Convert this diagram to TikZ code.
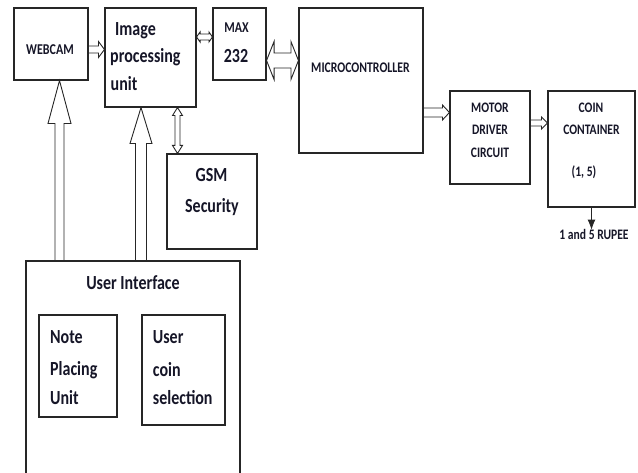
\documentclass[tikz,border=0pt]{standalone}
\usepackage{fontspec}
\newfontfamily\lblfont{Carlito}[FakeStretch=0.8]
\usetikzlibrary{calc,arrows.meta}
\definecolor{ink}{RGB}{22,22,40}

% hollow block arrow: style, from, to, shaft half width, head half width, head length
\newcommand\blockarrow[6]{%
  \draw[#1] let \p1=(#2), \p2=(#3),
      \n1={atan2(\y2-\y1,\x2-\x1)}, \n2={veclen(\x2-\x1,\y2-\y1)} in
    [shift={(\p1)}, rotate=\n1]
    (0pt,#4) -- ({\n2*1pt-#6},#4) -- ({\n2*1pt-#6},#5) -- ({\n2*1pt},0pt)
    -- ({\n2*1pt-#6},-#5) -- ({\n2*1pt-#6},-#4) -- (0pt,-#4);
}
% hollow block arrow with a head at both ends
\newcommand\twowayarrow[6]{%
  \draw[#1] let \p1=(#2), \p2=(#3),
      \n1={atan2(\y2-\y1,\x2-\x1)}, \n2={veclen(\x2-\x1,\y2-\y1)} in
    [shift={(\p1)}, rotate=\n1]
    (#6,#4) -- ({\n2*1pt-#6},#4) -- ({\n2*1pt-#6},#5) -- ({\n2*1pt},0pt)
    -- ({\n2*1pt-#6},-#5) -- ({\n2*1pt-#6},-#4) -- (#6,-#4) -- (#6,-#5)
    -- (0pt,0pt) -- (#6,#5) -- cycle;
}

\begin{document}
\begin{tikzpicture}[x=1pt,y=-1pt,
  box/.style={draw=black!85, line width=1.1pt, inner sep=0pt},
  hollow/.style={draw=black!85, line width=0.9pt, line join=miter},
  lbl/.style={inner sep=0pt, text=ink,
    font=\lblfont\bfseries\fontsize{#1}{#1}\selectfont},
]
\path[use as bounding box, fill=white] (0,0) rectangle (638,473);

% blocks
\node[box, minimum width=74pt,  minimum height=72pt]  (web)  at (51,44)    {};
\node[box, minimum width=91pt,  minimum height=99pt]  (ipu)  at (150.5,57.5) {};
\node[box, minimum width=53pt,  minimum height=72pt]  (max)  at (239.5,44)  {};
\node[box, minimum width=124pt, minimum height=145pt] (mcu)  at (361,80.5)  {};
\node[box, minimum width=80pt,  minimum height=93pt]  (mdc)  at (490,137.5) {};
\node[box, minimum width=87pt,  minimum height=116pt] (coin) at (591.5,149) {};
\node[box, minimum width=90pt,  minimum height=95pt]  (gsm)  at (212,201.5) {};
\node[box, minimum width=214pt, minimum height=234pt] (ui)   at (133,378)   {};
\node[box, minimum width=78pt,  minimum height=102pt] (note) at (78,366)    {};
\node[box, minimum width=83pt,  minimum height=110pt] (sel)  at (183.5,370) {};

% labels
\node[lbl=15, anchor=base] (webT) at (50,55) {WEBCAM};
\node[lbl=20, anchor=base west] (ipuT1) at (115,36)   {Image};
\node[lbl=20, anchor=base west] (ipuT2) at (110,63)   {processing};
\node[lbl=20, anchor=base west] (ipuT3) at (110.5,91) {unit};
\node[lbl=15, anchor=base] (maxT1) at (236.5,33)  {MAX};
\node[lbl=20, anchor=base] (maxT2) at (236,62.5)  {232};
\node[lbl=14.7, anchor=base] (mcuT) at (360.5,73) {MICROCONTROLLER};
\node[lbl=14.5, anchor=base] (mdcT1) at (490,113) {MOTOR};
\node[lbl=14.5, anchor=base] (mdcT2) at (490,135) {DRIVER};
\node[lbl=14.5, anchor=base] (mdcT3) at (490,158) {CIRCUIT};
\node[lbl=14.5, anchor=base] (coinT1) at (591,113) {COIN};
\node[lbl=14.5, anchor=base] (coinT2) at (591.5,135) {CONTAINER};
\node[lbl=14.5, anchor=base] (coinT3) at (584,177) {(1, 5)};
\node[lbl=14.5, anchor=base] (rupee) at (594,240) {1 and 5 RUPEE};
\node[lbl=20, anchor=base] (gsmT1) at (211.5,182) {GSM};
\node[lbl=20, anchor=base] (gsmT2) at (212,213)   {Security};
\node[lbl=20, anchor=base] (uiT) at (133,290) {User Interface};
\node[lbl=20, anchor=base west] (noteT1) at (50,344)   {Note};
\node[lbl=20, anchor=base west] (noteT2) at (50,375.5) {Placing};
\node[lbl=20, anchor=base west] (noteT3) at (50,405)   {Unit};
\node[lbl=20, anchor=base west] (selT1) at (152.7,344)   {User};
\node[lbl=20, anchor=base west] (selT2) at (152.7,376.5) {coin};
\node[lbl=20, anchor=base west] (selT3) at (152.7,405)   {selection};

% connectors
\blockarrow{hollow}{$(web.east)+(0,5.5)$}{$(ipu.west)+(0,-8)$}{3.5pt}{8pt}{6pt}
\twowayarrow{hollow}{$(ipu.east)+(0,-20.5)$}{$(max.west)+(0,-7)$}{3pt}{5pt}{3.5pt}
\twowayarrow{hollow}{$(max.east)+(0,16.5)$}{$(mcu.west)+(0,-20)$}{7.5pt}{19pt}{7.5pt}
\blockarrow{hollow}{$(mcu.east)+(0,32)$}{$(mdc.west)+(0,-25)$}{4.5pt}{7.5pt}{7pt}
\blockarrow{hollow}{$(mdc.east)+(0,-14.5)$}{$(coin.west)+(0,-26)$}{3pt}{6pt}{6pt}
\twowayarrow{hollow}{$(ipu.south)+(27,0)$}{$(gsm.north)+(-34.5,0)$}{2.5pt}{5pt}{8pt}
\blockarrow{hollow}{$(ui.north)+(-73.5,0)$}{$(web.south)+(8.5,0)$}{4.5pt}{11.5pt}{43pt}
\blockarrow{hollow}{$(ui.north)+(8,0)$}{$(ipu.south)+(-9.5,0)$}{5.5pt}{11pt}{36pt}
\draw[black!85, line width=0.8pt, -{Latex[length=10pt,width=8pt]}]
  (coin.south) -- (coin.south |- rupee.north);
\end{tikzpicture}
\end{document}
